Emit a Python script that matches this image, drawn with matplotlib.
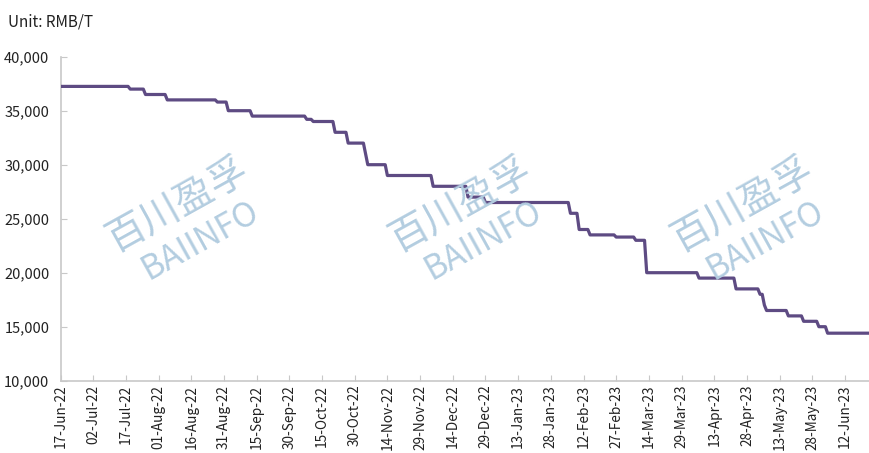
import matplotlib
matplotlib.use("Agg")
import matplotlib.pyplot as plt
import matplotlib.dates as mdates
import pandas as pd

# Price change points (date the new price takes effect) and price in RMB/T
change_dates = [
    "2022-06-17", "2022-07-19", "2022-07-26", "2022-08-05", "2022-08-28",
    "2022-09-02", "2022-09-13", "2022-10-08", "2022-10-11", "2022-10-21",
    "2022-10-27", "2022-11-04", "2022-11-05", "2022-11-14", "2022-12-05",
    "2022-12-21", "2022-12-29", "2023-02-06", "2023-02-10", "2023-02-15",
    "2023-02-27", "2023-03-08", "2023-03-13", "2023-04-06", "2023-04-23",
    "2023-05-04", "2023-05-06", "2023-05-07", "2023-05-17", "2023-05-24",
    "2023-05-31", "2023-06-04",
]
prices = [
    37250, 37000, 36500, 36000, 35800,
    35000, 34500, 34200, 34000, 33000,
    32000, 31000, 30000, 29000, 28000,
    27000, 26500, 25500, 24000, 23500,
    23300, 23000, 20000, 19500, 18500,
    18000, 17000, 16500, 16000, 15500,
    15000, 14400,
]
last_date = "2023-06-23"

y_ticks = [10000, 15000, 20000, 25000, 30000, 35000, 40000]
unit_label = "Unit: RMB/T"
watermark_cn = "百川盈孚"
watermark_en = "BAIINFO"

# Daily price series: each price holds until the next change
start = pd.Timestamp(change_dates[0])
end = pd.Timestamp(last_date)
daily = (pd.Series(prices, index=pd.to_datetime(change_dates))
         .reindex(pd.date_range(start, end, freq="D"))
         .ffill())

plt.rcParams["font.family"] = ["Noto Sans CJK SC", "DejaVu Sans"]

W, H = 869, 453
fig = plt.figure(figsize=(W / 100, H / 100), dpi=100)
ax = fig.add_axes([60.5 / W, 1 - 380.7 / H, 1 - 60.5 / W, (380.7 - 56.7) / H])

ax.plot(daily.index, daily.values, color="#5e4b83", lw=2.3, zorder=3)

ax.set_ylim(10000, 40000)
ax.set_yticks(y_ticks)
ax.yaxis.set_major_formatter(matplotlib.ticker.FuncFormatter(lambda v, p: f"{int(v):,}"))

ax.set_xlim(start, start + pd.Timedelta(days=371))
xt = pd.date_range(start, end, freq="15D")
ax.set_xticks(xt)
ax.xaxis.set_major_formatter(mdates.DateFormatter("%d-%b-%y"))
plt.setp(ax.get_xticklabels(), rotation=90)

for s in ("top", "right"):
    ax.spines[s].set_visible(False)
for s in ("left", "bottom"):
    ax.spines[s].set_color("#c8c8c8")
    ax.spines[s].set_linewidth(1.2)
ax.tick_params(axis="both", direction="in", length=4, color="#c8c8c8",
               labelcolor="#222222")
ax.tick_params(axis="x", labelsize=9.8, pad=3)
ax.tick_params(axis="y", labelsize=10.5, pad=8)

fig.text(8 / W, 1 - 22 / H, unit_label, fontsize=11, color="#222222",
         ha="left", va="center")

# Watermarks
for cx in (178, 461, 743):
    fig.text(cx / W, 1 - 205 / H, watermark_cn, fontsize=28, color="#b3cde0",
             rotation=29, ha="center", va="center", rotation_mode="anchor",
             zorder=1)
    fig.text((cx + 22) / W, 1 - 240 / H, watermark_en, fontsize=24,
             color="#b3cde0", rotation=29, ha="center", va="center",
             rotation_mode="anchor", zorder=1)

fig.savefig("out.png", dpi=100)
